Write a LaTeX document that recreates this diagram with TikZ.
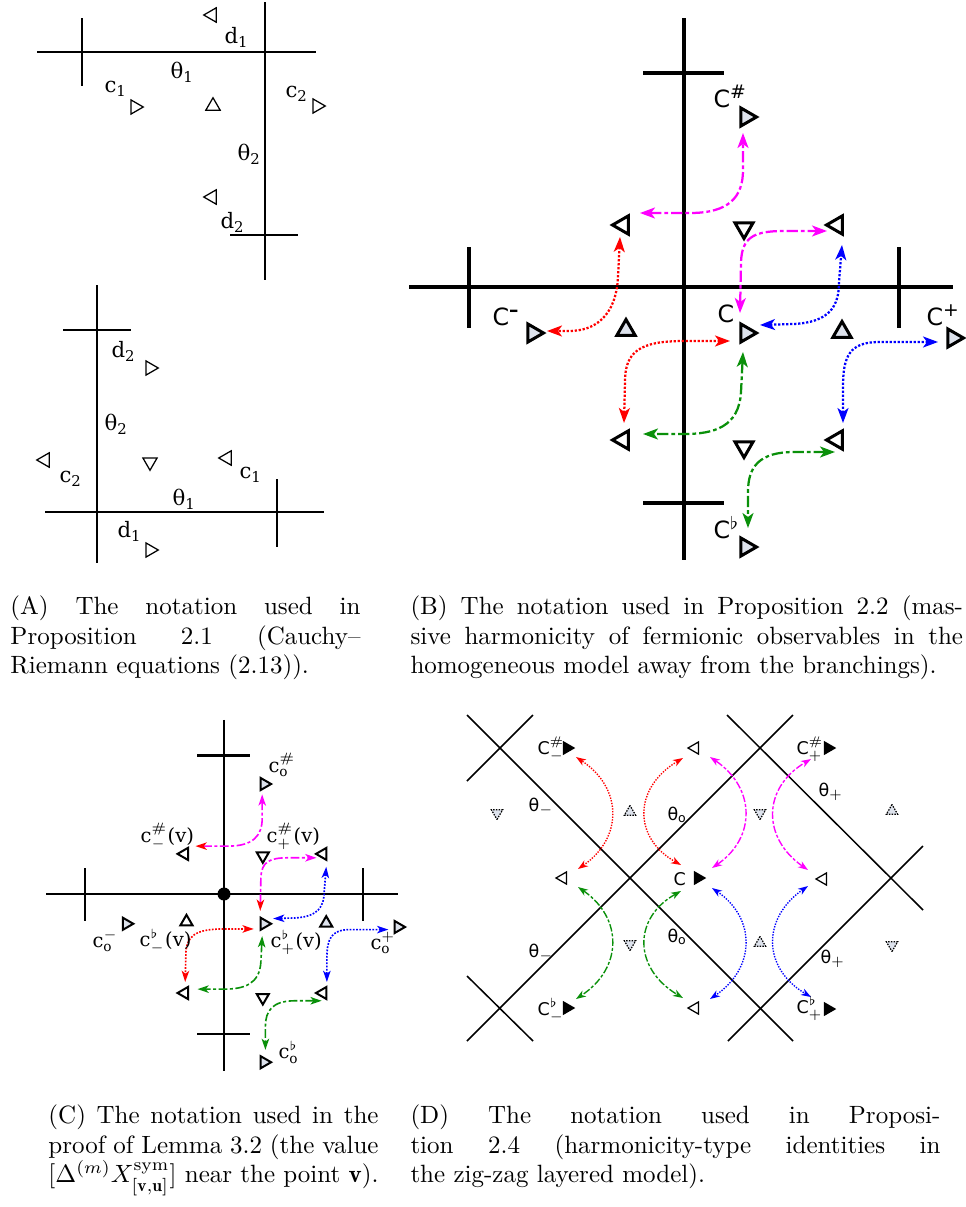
\documentclass[tikz,border=0pt]{standalone}
\usepackage{amsmath}
\usepackage{fontspec}
\usetikzlibrary{arrows.meta,shapes.geometric}
\newfontfamily\dvsans{DejaVu Sans}
\newfontfamily\dvserif{DejaVu Serif}
\definecolor{lt}{HTML}{DDE2EC}
\definecolor{mygreen}{HTML}{0A900A}
\definecolor{mymag}{HTML}{FF00FF}
\newcommand\bsup[1]{\raisebox{3.6pt}{\fontsize{7.5}{7.5}\selectfont #1}}
\begin{document}
\begin{tikzpicture}[x=0.4pt,y=-0.4pt,
 tri/.style={regular polygon,regular polygon sides=3,inner sep=0pt,outer sep=0pt,draw,line join=miter},
 tR/.style={tri,shape border rotate=-90},
 tL/.style={tri,shape border rotate=90},
 tU/.style={tri},
 tD/.style={tri,shape border rotate=180},
 lab/.style={inner sep=0pt,anchor=base west},
 aT/.style={minimum size=6.6pt,line width=0.5pt},
 bT/.style={minimum size=8.4pt,line width=1.2pt},
 cT/.style={minimum size=5.6pt,line width=0.8pt},
 dT/.style={minimum size=5.6pt,line width=0.5pt},
 dDot/.style={tri,minimum size=5.2pt,line width=0.5pt,dash pattern=on 0.6pt off 0.5pt,fill=lt},
 labA/.style={lab,font=\dvserif\fontsize{8.5}{10}\selectfont},
 labB/.style={lab,font=\dvsans\fontsize{9.5}{11}\selectfont},
 labC/.style={lab,font=\dvserif\fontsize{7.8}{9.5}\selectfont},
 labD/.style={lab,font=\dvsans\fontsize{7}{9}\selectfont},
 capt/.style={anchor=north west,inner sep=0pt,align=justify,font=\fontsize{10}{11.9}\selectfont},
 bArr/.style={line width=0.9pt,>={Stealth[length=6pt,width=4.4pt,inset=1.6pt]},<->},
 bDash/.style={bArr,dash pattern=on 4.5pt off 1.2pt on 1.5pt off 1.2pt},
 bDot/.style={bArr,dash pattern=on 0.9pt off 0.7pt},
 cLine/.style={line width=0.65pt},
 cDash/.style={cLine,dash pattern=on 3.5pt off 1pt on 1.2pt off 1pt},
 cDot/.style={cLine,dash pattern=on 0.7pt off 0.6pt},
 cBoth/.style={{Stealth[length=4.5pt,width=3pt,inset=1.2pt]}-{Stealth[length=4.5pt,width=3pt,inset=1.2pt]}},
 cRedStart/.style={{Stealth[length=4.5pt,width=3pt,inset=1.2pt,color=red]}-{Stealth[length=4.5pt,width=3pt,inset=1.2pt]}},
 dArr/.style={line width=0.55pt,{Stealth[length=4pt,width=2.8pt,inset=1.2pt]}-{Stealth[length=4pt,width=2.8pt,inset=1.2pt]}},
 dDash/.style={dArr,dash pattern=on 3pt off 0.8pt on 1.2pt off 0.8pt},
 dDotted/.style={dArr,dash pattern=on 0.55pt off 0.55pt},
]
\useasboundingbox (0,0) rectangle (966,1207);

% ================= Panel A =================
\begin{scope}[line width=0.7pt]
\draw (37,52) -- (316,52);
\draw (82,18) -- (82,86);
\draw (265,2) -- (265,280);
\draw (230,235) -- (298,235);
\draw (97,285) -- (97,563);
\draw (63,330) -- (131,330);
\draw (45,512) -- (324,512);
\draw (277,479) -- (277,547);
\end{scope}
\node[tL,aT] (a1) at (212,15) {};
\node[tR,aT] (a2) at (135,107) {};
\node[tU,aT] (a3) at (213,106) {};
\node[tR,aT] (a4) at (317,106) {};
\node[tL,aT] (a5) at (212,197) {};
\node[tR,aT] (a6) at (150,368) {};
\node[tL,aT] (a7) at (45,460) {};
\node[tD,aT] (a8) at (150,462) {};
\node[tL,aT] (a9) at (227,458) {};
\node[tR,aT] (a10) at (150,550) {};
\node[labA] (la1) at (224,43) {$\text{d}_{\text{1}}$};
\node[labA] (la2) at (170,78) {$\text{θ}_{\text{1}}$};
\node[labA] (la3) at (104,92) {$\text{c}_{\text{1}}$};
\node[labA] (la4) at (285,97) {$\text{c}_{\text{2}}$};
\node[labA] (la5) at (237,160) {$\text{θ}_{\text{2}}$};
\node[labA] (la6) at (220,228) {$\text{d}_{\text{2}}$};
\node[labA] (la7) at (111,357) {$\text{d}_{\text{2}}$};
\node[labA] (la8) at (104,430) {$\text{θ}_{\text{2}}$};
\node[labA] (la9) at (59,482) {$\text{c}_{\text{2}}$};
\node[labA] (la10) at (239,478) {$\text{c}_{\text{1}}$};
\node[labA] (la11) at (172,505) {$\text{θ}_{\text{1}}$};
\node[labA] (la12) at (117,537) {$\text{d}_{\text{1}}$};

% ================= Panel B =================
\begin{scope}[shift={(684,287)}]
\begin{scope}[line width=1.3pt]
\draw (0,-269) -- (0,273);
\draw (-275,0) -- (269,0);
\draw (-41,-214) -- (40,-214);
\draw (-41,216) -- (40,216);
\draw (-215,-40) -- (-215,41);
\draw (215,-40) -- (215,41);
\end{scope}
\node[tL,bT] (b1) at (-61,-62) {};
\node[tR,bT,fill=lt] (bsharp) at (62,-170) {};
\node[tD,bT] (b2) at (60,-59) {};
\node[tL,bT] (b3) at (153,-62) {};
\node[tR,bT,fill=lt] (bminus) at (-151,46) {};
\node[tU,bT,fill=lt] (b4) at (-58,43) {};
\node[tR,bT,fill=lt] (bc) at (62,46) {};
\node[tU,bT,fill=lt] (b5) at (158,45) {};
\node[tR,bT,fill=lt] (bplus) at (269,51) {};
\node[tL,bT] (b6) at (-61,153) {};
\node[tD,bT] (b7) at (60,160) {};
\node[tL,bT] (b8) at (153,153) {};
\node[tR,bT,fill=lt] (bflat) at (62,260) {};
\draw[bDash,mymag] (-44,-74) -- (6,-74) .. controls (45,-74) and (59,-90) .. (59,-117) -- (59,-154);
\draw[bDash,mymag] (56,26) -- (57,-25) .. controls (58,-50) and (70,-56) .. (100,-56) -- (143,-56);
\draw[bDot,red] (-64,-50) -- (-66,-10) .. controls (-68,30) and (-90,44) .. (-115,44) -- (-137,44);
\draw[bDot,red] (46,54) -- (0,54) .. controls (-45,54) and (-59,65) .. (-59,95) -- (-60,136);
\draw[bDot,blue] (76,38) -- (110,37) .. controls (145,35) and (155,20) .. (155,-5) -- (158,-42);
\draw[bDot,blue] (254,55) -- (195,55) .. controls (165,55) and (159,70) .. (159,100) -- (159,136);
\draw[bDash,mygreen] (59,65) -- (57,105) .. controls (55,140) and (30,147) .. (0,147) -- (-41,147);
\draw[bDash,mygreen] (151,165) -- (110,165) .. controls (75,165) and (64,180) .. (64,205) -- (64,241);
\end{scope}
\node[labB] (lb1) at (713,107) {C\bsup{\#}};
\node[labB] (lb2) at (492,325) {C\bsup{\textbf{–}}};
\node[labB] (lb3) at (717,322) {C};
\node[labB] (lb4) at (926,325) {C\bsup{+}};
\node[labB] (lb5) at (713,538) {C\bsup{$\flat$}};

% ================= Panel C =================
\begin{scope}[shift={(224,894)},scale=0.647]
\begin{scope}[line width=1pt]
\draw (0,-269) -- (0,273);
\draw (-275,0) -- (269,0);
\draw (-41,-214) -- (40,-214);
\draw (-41,216) -- (40,216);
\draw (-215,-40) -- (-215,41);
\draw (215,-40) -- (215,41);
\end{scope}
\node[circle,fill,inner sep=0pt,minimum size=5.2pt] (cdot) at (0,0) {};
\node[tL,cT] (c1) at (-61,-62) {};
\node[tR,cT,fill=lt] (csharp) at (62,-170) {};
\node[tD,cT] (c2) at (60,-59) {};
\node[tL,cT] (c3) at (153,-62) {};
\node[tR,cT,fill=lt] (cminus) at (-151,46) {};
\node[tU,cT] (c4) at (-58,43) {};
\node[tR,cT,fill=lt] (cc) at (62,46) {};
\node[tU,cT,fill=lt] (c5) at (158,45) {};
\node[tR,cT,fill=lt] (cplus) at (269,51) {};
\node[tL,cT] (c6) at (-61,153) {};
\node[tD,cT] (c7) at (60,160) {};
\node[tL,cT] (c8) at (153,153) {};
\node[tR,cT,fill=lt] (cflat) at (62,260) {};
\draw[cDash,mymag,cRedStart] (-44,-74) -- (6,-74) .. controls (45,-74) and (59,-90) .. (59,-117) -- (59,-154);
\draw[cDash,mymag,cRedStart] (56,26) -- (57,-25) .. controls (58,-50) and (70,-56) .. (100,-56) -- (143,-56);
\draw[cDot,red,cBoth] (46,54) -- (0,54) .. controls (-45,54) and (-59,65) .. (-59,95) -- (-60,136);
\draw[cDot,blue,cBoth] (76,38) -- (110,37) .. controls (145,35) and (155,20) .. (155,-5) -- (158,-42);
\draw[cDot,blue,cBoth] (254,55) -- (195,55) .. controls (165,55) and (159,70) .. (159,100) -- (159,136);
\draw[cDash,mygreen,cBoth] (59,65) -- (57,105) .. controls (55,140) and (30,147) .. (0,147) -- (-41,147);
\draw[cDash,mygreen,cBoth] (151,165) -- (110,165) .. controls (75,165) and (64,180) .. (64,205) -- (64,241);
\end{scope}
\node[labC] (lc1) at (140,842) {$\text{c}^{\#}_{-}$(v)};
\node[labC] (lc2) at (268,772) {$\text{c}^{\#}_{\text{o}}$};
\node[labC] (lc3) at (266,842) {$\text{c}^{\#}_{+}$(v)};
\node[labC] (lc4) at (92,947) {$\text{c}^{-}_{\text{o}}$};
\node[labC] (lc5) at (139,946) {$\text{c}^{\flat}_{-}$(v)};
\node[labC] (lc6) at (270,947) {$\text{c}^{\flat}_{+}$(v)};
\node[labC] (lc7) at (370,949) {$\text{c}^{+}_{\text{o}}$};
\node[labC] (lc8) at (278,1058) {$\text{c}^{\flat}_{\text{o}}$};

% ================= Panel D =================
\begin{scope}[line width=0.6pt]
\draw (467,715) -- (793,1041);
\draw (467,1041) -- (793,715);
\draw (727,715) -- (923,910);
\draw (728,1041) -- (923,846);
\draw (467,781) -- (533,715);
\draw (467,976) -- (533,1041);
\end{scope}
\node[tR,dT,fill=black] (dsm) at (567,748) {};
\node[tL,dT] (d1) at (695,748) {};
\node[tR,dT,fill=black] (dsp) at (828,748) {};
\node[tL,dT] (d2) at (563,878) {};
\node[tR,dT,fill=black] (dc) at (698,878) {};
\node[tL,dT] (d3) at (823,879) {};
\node[tR,dT,fill=black] (dfm) at (567,1008) {};
\node[tL,dT] (d4) at (695,1008) {};
\node[tR,dT,fill=black] (dfp) at (828,1009) {};
\node[dDot,shape border rotate=180] (e1) at (497,813) {};
\node[dDot] (e2) at (630,812) {};
\node[dDot,shape border rotate=180] (e3) at (760,813) {};
\node[dDot] (e4) at (892,811) {};
\node[dDot,shape border rotate=180] (e5) at (630,944) {};
\node[dDot] (e6) at (760,943) {};
\node[dDot,shape border rotate=180] (e7) at (892,945) {};
\draw[dDotted,red] (578,869) .. controls (623,838) and (623,788) .. (576,757);
\draw[dDotted,red] (681,865) .. controls (633,838) and (633,788) .. (683,758);
\draw[dDash,mymag] (712,868) .. controls (756,838) and (756,788) .. (710,757);
\draw[dDash,mymag] (808,870) .. controls (762,838) and (762,788) .. (811,759);
\draw[dDash,mygreen] (578,887) .. controls (623,918) and (623,968) .. (576,999);
\draw[dDash,mygreen] (681,891) .. controls (633,918) and (633,968) .. (683,998);
\draw[dDotted,blue] (712,888) .. controls (756,918) and (756,968) .. (710,999);
\draw[dDotted,blue] (808,886) .. controls (762,918) and (762,968) .. (811,997);
\node[labD] (ld1) at (537,754) {$\text{C}^{\#}_{-}$};
\node[labD] (ld2) at (796,754) {$\text{C}^{\#}_{+}$};
\node[labD] (ld3) at (673,885) {C};
\node[labD] (ld4) at (537,1015) {$\text{C}^{\flat}_{-}$};
\node[labD] (ld5) at (796,1013) {$\text{C}^{\flat}_{+}$};
\node[labD] (ld6) at (528,811) {$\text{θ}_{-}$};
\node[labD] (ld7) at (667,820) {$\text{θ}_{\text{o}}$};
\node[labD] (ld8) at (818,796) {$\text{θ}_{+}$};
\node[labD] (ld9) at (528,957) {$\text{θ}_{-}$};
\node[labD] (ld10) at (667,942) {$\text{θ}_{\text{o}}$};
\node[labD] (ld11) at (820,963) {$\text{θ}_{+}$};

% ================= Captions =================
\node[capt,text width=140pt] (capA) at (10,595) {(A) The notation used in\linebreak Proposition 2.1 (Cauchy--\linebreak Riemann equations (2.13)).};
\node[capt,text width=221pt] (capB) at (410,595) {(B) The notation used in Proposition 2.2 (mas-\linebreak sive harmonicity of fermionic observables in the\linebreak homogeneous model away from the branchings).};
\node[capt,text width=132pt] (capC) at (48,1104) {(C) The notation used in the\linebreak proof of Lemma 3.2 (the value\linebreak $[\Delta^{(m)}X^{\mathrm{sym}}_{[\mathbf{v},\mathbf{u}]}]$ near the point $\mathbf{v}$).};
\node[capt,text width=212pt] (capD) at (410,1104) {(D) The notation used in Proposi-\linebreak tion 2.4 (harmonicity-type identities in\linebreak the zig-zag layered model).};
\end{tikzpicture}
\end{document}
